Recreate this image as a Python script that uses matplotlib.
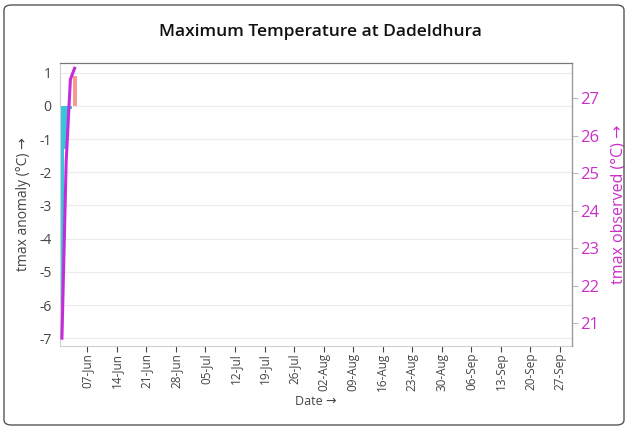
import pandas as pd
import matplotlib
matplotlib.use("Agg")
import matplotlib.pyplot as plt
import matplotlib.dates as mdates
from matplotlib.patches import FancyBboxPatch

plt.rcParams['font.family'] = ['Open Sans', 'DejaVu Sans']

# data
dates = pd.to_datetime(["2024-06-01", "2024-06-02", "2024-06-03", "2024-06-04"])
tmax_anomaly = [-6.1, -1.3, -0.1, 0.9]
tmax_observed = [20.6, 25.3, 27.5, 27.8]
left_ticks = [1, 0, -1, -2, -3, -4, -5, -6, -7]
right_ticks = [21, 22, 23, 24, 25, 26, 27]
tick_dates = pd.date_range("2024-06-07", "2024-09-27", freq="7D")

neg_col = '#36c5da'
pos_col = '#fa9a8e'
line_col = '#c42bd9'
right_col = '#c930c9'

fig = plt.figure(figsize=(6.29, 4.28), dpi=100)
ax = fig.add_axes([60/629, 1-346/428, 512/629, 283/428])

# outer frame
fig.patches.append(FancyBboxPatch((4/629, 3/428), 620/629, 420/428,
                                  boxstyle="round,pad=0,rounding_size=0.012",
                                  transform=fig.transFigure, fill=False,
                                  edgecolor='#555555', linewidth=1.0))

bar_cols = [neg_col if v < 0 else pos_col for v in tmax_anomaly]
ax.bar(dates, tmax_anomaly, width=0.95, color=bar_cols, zorder=2)

ax.set_ylim(-7.23, 1.29)
ax.set_yticks(left_ticks)
ax.set_yticklabels([str(t) for t in left_ticks])
ax.grid(axis='y', color='#ececec', linewidth=0.8, zorder=0)
ax.tick_params(axis='y', length=0, labelsize=10, colors='#444444', pad=6)
ax.set_ylabel("tmax anomaly (°C) →", fontsize=10, color='#444444', labelpad=6)

ax.set_xlim(pd.Timestamp("2024-05-31 13:00"), pd.Timestamp("2024-09-29 20:00"))
ax.set_xticks(tick_dates)
ax.xaxis.set_major_formatter(mdates.DateFormatter('%d-%b'))
ax.tick_params(axis='x', rotation=90, labelsize=8.5, colors='#444444', length=4,
               width=0.8, pad=1)
ax.set_xlabel("Date →", fontsize=9, color='#444444', labelpad=3)

for s in ['left', 'bottom']:
    ax.spines[s].set_color('#d0d0d0')
ax.spines['top'].set_color('#777777')

ax2 = ax.twinx()
ax2.plot(dates, tmax_observed, color=line_col, linewidth=2.2, zorder=3)
ax2.set_ylim(20.39, 27.94)
ax2.set_yticks(right_ticks)
ax2.tick_params(axis='y', labelsize=12, colors='#bbbbbb', labelcolor=right_col,
                length=4, width=0.8, pad=2)
ax2.set_ylabel("tmax observed (°C) →", fontsize=11.5, color=right_col, labelpad=8)
for s in ['left', 'bottom']:
    ax2.spines[s].set_visible(False)
ax2.spines['top'].set_color('#777777')
ax2.spines['right'].set_color('#999999')

fig.text(320/629, 1-32/428, "Maximum Temperature at Dadeldhura", ha='center',
         va='center', fontsize=12.5, fontweight='semibold', color='#111111')

fig.savefig("out.png", dpi=100)
